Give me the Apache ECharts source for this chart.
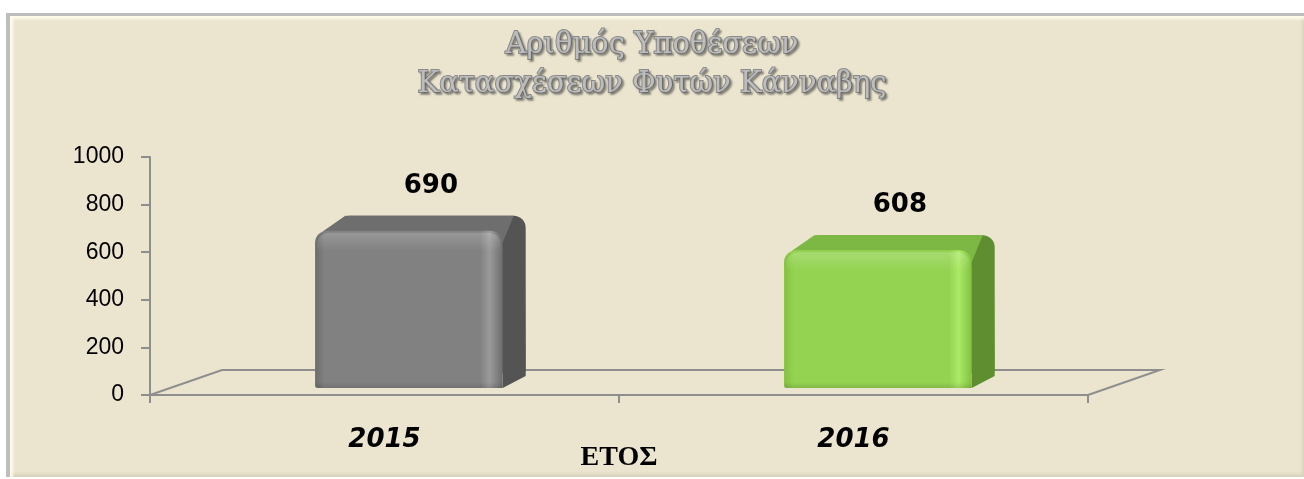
<!DOCTYPE html>
<html><head><meta charset="utf-8">
<script src="https://cdn.jsdelivr.net/npm/echarts@6/dist/echarts.min.js"></script>
<style>
html,body{margin:0;padding:0;background:#fff;}
#frame{position:absolute;left:6px;top:13px;width:1298px;height:464px;box-sizing:border-box;background:#EBE5D0;border-left:4px solid #BEBEBE;border-top:3px solid #BDBDBD;box-shadow:inset 3px 3px 3px #FFFCEA, inset -2px -3px 3px #D9D3BD;}
#c{position:absolute;left:0;top:0;width:1304px;height:479px;}
</style>
</head><body><div id="frame"></div><div id="c"></div>
<script>
// ---- data ----
const TITLE_LINES = ['Αριθμός Υποθέσεων', 'Κατασχέσεων Φυτών Κάνναβης'];
const CATEGORIES = ['2015', '2016'];
const VALUES = [690, 608];
const X_AXIS_NAME = 'ΕΤΟΣ';
const Y_MIN = 0, Y_MAX = 1000, Y_STEP = 200;

// ---- style ----
const PALETTE = [
  { front: '#818181', dark: '#6C6C6C', light: '#9A9A9A', top: '#6E6E6E', side: '#545454' },
  { front: '#94D352', dark: '#82C140', light: '#ABEA66', top: '#7DB844', side: '#5F8E30' }
];

const chart = echarts.init(document.getElementById('c'), null, { renderer: 'canvas' });

function renderFloor(params, api) {
  const band = api.size([1, 0])[0];
  const a = api.coord([0, 0]);
  const b = api.coord([CATEGORIES.length - 1, 0]);
  const xl = a[0] - band / 2, xr = b[0] + band / 2, y = a[1];
  const ddx = 72, ddy = 25;
  return {
    type: 'polyline',
    shape: { points: [[xl, y], [xl + ddx, y - ddy], [xr + ddx, y - ddy], [xr, y]] },
    style: { stroke: '#8E8E8E', lineWidth: 2, fill: null }
  };
}

function renderBar(params, api) {
  const i = api.value(0), v = api.value(1);
  const top = api.coord([i, v]);
  const base = api.coord([i, 0]);
  const band = api.size([1, 0])[0];
  const w = band * 0.40;
  const sx = band * 0.052;
  const x0 = top[0] - w / 2 + sx, x1 = x0 + w;
  const yT = top[1], yB = base[1] - 7;
  const dx = 23, dy = 15, r = 12;
  const p = PALETTE[i % PALETTE.length];
  const h = yB - yT;
  return {
    type: 'group',
    children: [
      { type: 'rect', shape: { x: x0 + dx, y: yT - dy, width: w, height: h, r: [r, r, 3, 0] },
        style: { fill: p.side } },
      { type: 'polygon', shape: { points: [[x0 + r * 0.6, yT + 1], [x0 + dx + r * 0.6, yT - dy], [x1 + dx - r, yT - dy], [x1, yT + r]] },
        style: { fill: p.top } },
      { type: 'polygon', shape: { points: [[x1 - 1, yT + r], [x1 + dx - 1, yT - dy + r], [x1 + dx, yB - dy + 3], [x1, yB]] },
        style: { fill: p.side } },
      { type: 'rect', shape: { x: x0, y: yT, width: w, height: h, r: [r, r, 0, 3] },
        style: { fill: new echarts.graphic.LinearGradient(0, 0, 1, 0, [
          { offset: 0, color: p.dark }, { offset: 0.05, color: p.front },
          { offset: 0.88, color: p.front }, { offset: 0.93, color: p.light },
          { offset: 0.97, color: p.front }, { offset: 1, color: p.dark }]) } },
      { type: 'rect', shape: { x: x0 + 2, y: yT + 2, width: w - 4, height: 18, r: [r, r, 0, 0] },
        style: { fill: new echarts.graphic.LinearGradient(0, 0, 0, 1, [
          { offset: 0, color: 'rgba(255,255,255,0.18)' }, { offset: 1, color: 'rgba(255,255,255,0)' }]) } },
      { type: 'rect', shape: { x: x0, y: yB - 6, width: w, height: 6 },
        style: { fill: new echarts.graphic.LinearGradient(0, 0, 0, 1, [
          { offset: 0, color: 'rgba(0,0,0,0)' }, { offset: 1, color: 'rgba(0,0,0,0.12)' }]) } },
      { type: 'text', style: { text: String(v), x: x0 + w / 2 + 22, y: yT - dy - 30,
          font: 'bold 26px "DejaVu Sans", Verdana, sans-serif', fill: '#000',
          align: 'center', verticalAlign: 'middle' } }
    ]
  };
}

const axisLineStyle = { color: '#8E8E8E', width: 2 };

chart.setOption({
  backgroundColor: 'transparent',
  animation: false,
  title: {
    text: TITLE_LINES.join('\n'),
    left: 'center',
    top: 21,
    textStyle: {
      fontFamily: '"DejaVu Serif", serif', fontWeight: 'normal', fontSize: 29, lineHeight: 39,
      color: '#BDBDBD', textBorderColor: '#8A8A8A', textBorderWidth: 2,
      textShadowColor: 'rgba(0,0,0,0.3)', textShadowBlur: 2, textShadowOffsetX: 2, textShadowOffsetY: 2
    }
  },
  grid: { left: 150, right: 216, top: 157, bottom: 84, containLabel: false, outerBoundsMode: 'none' },
  xAxis: {
    type: 'category',
    data: CATEGORIES,
    axisLine: { show: true, lineStyle: axisLineStyle },
    axisTick: { show: true, length: 8, lineStyle: axisLineStyle },
    axisLabel: { fontFamily: '"DejaVu Sans", Verdana, sans-serif', fontWeight: 'bold', fontStyle: 'italic',
      fontSize: 26, color: '#000', margin: 32 },
    name: X_AXIS_NAME,
    nameLocation: 'middle',
    nameGap: 49,
    nameMoveOverlap: false,
    nameTextStyle: { fontFamily: '"Liberation Serif", "Times New Roman", serif', fontWeight: 'bold', fontSize: 28, color: '#000' }
  },
  yAxis: {
    type: 'value',
    min: Y_MIN, max: Y_MAX, interval: Y_STEP,
    splitLine: { show: false },
    axisLine: { show: true, lineStyle: axisLineStyle },
    axisTick: { show: true, length: 9, lineStyle: axisLineStyle },
    axisLabel: { fontFamily: '"Liberation Sans", Arial, sans-serif', fontSize: 23, color: '#000', margin: 26,
      formatter: (v) => String(v) }
  },
  series: [
    { type: 'custom', name: 'floor', renderItem: renderFloor, data: [[0, Y_MIN]], z: 1, silent: true },
    { type: 'custom', name: 'bars', renderItem: renderBar,
      data: CATEGORIES.map((c, i) => [i, VALUES[i]]), z: 3,
      encode: { x: 0, y: 1 } }
  ]
});
</script>
</body></html>
